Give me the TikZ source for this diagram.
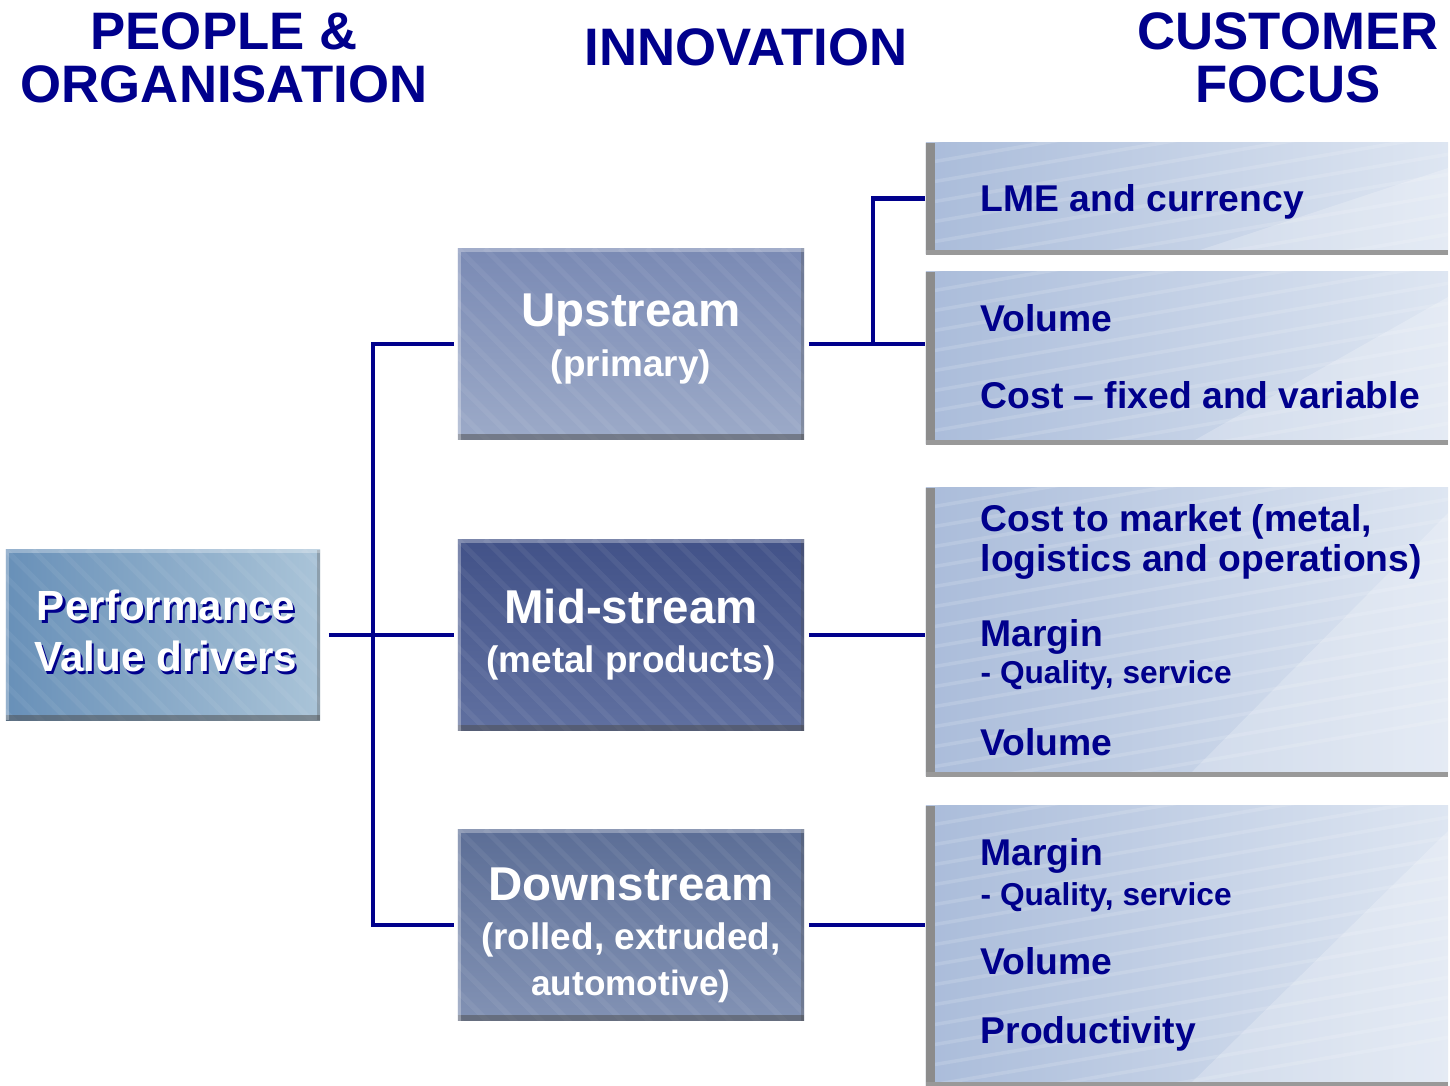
\documentclass[tikz,border=0pt]{standalone}
\usepackage{fontspec}
\setmainfont{Liberation Sans}
\definecolor{navy}{RGB}{0,0,140}
\definecolor{steelA}{RGB}{104,144,184}
\definecolor{steelB}{RGB}{170,196,216}
\definecolor{upA}{RGB}{122,138,180}
\definecolor{upB}{RGB}{156,170,200}
\definecolor{midA}{RGB}{66,82,136}
\definecolor{midB}{RGB}{96,112,160}
\definecolor{dnA}{RGB}{92,110,150}
\definecolor{dnB}{RGB}{130,146,180}
\definecolor{skyA}{RGB}{170,188,218}
\definecolor{skyB}{RGB}{222,230,242}

\begin{document}
\begin{tikzpicture}[x=0.01cm, y=-0.01cm,
    link/.style={draw=navy, line width=1.2pt},
    head/.style={text=navy, align=center, inner sep=0pt, font=\bfseries\fontsize{15}{15}\selectfont},
    bevel/.style={path picture={
        \foreach \k in {-8,...,14}
          \draw[white, opacity=.06, line width=1.5pt]
            ([xshift=\k*0.27cm]path picture bounding box.north west) -- ++(2.4cm,-2.4cm);
        \draw[black!70, opacity=.5, line width=3pt]
          (path picture bounding box.south west) -- (path picture bounding box.south east);
        \draw[black!70, opacity=.3, line width=2pt]
          (path picture bounding box.south east) -- (path picture bounding box.north east);
        \draw[white, opacity=.3, line width=2pt]
          (path picture bounding box.south west) -- (path picture bounding box.north west)
          -- (path picture bounding box.north east);}},
    stage/.style={bevel, inner sep=0pt, minimum width=3.46cm, minimum height=1.91cm,
        text=white, align=center, font=\bfseries},
    driver/.style={inner sep=0pt, minimum width=5.22cm, left color=skyA, right color=skyB,
        path picture={
        \foreach \k in {-2,...,16}
          \draw[white, opacity=.14, line width=1pt]
            ([yshift=-\k*0.2cm]path picture bounding box.north west) -- ++(5.3cm,0.9cm);
        \fill[white, opacity=.22] ([xshift=-2.6cm]path picture bounding box.south east)
          -- (path picture bounding box.south east)
          -- ([yshift=-0.25cm]path picture bounding box.north east) -- cycle;
        \draw[black!45, line width=5pt]
          (path picture bounding box.north west) -- (path picture bounding box.south west);
        \draw[black!40, line width=2.5pt]
          (path picture bounding box.south west) -- (path picture bounding box.south east);}},
    item/.style={anchor=base west, inner sep=0pt, text=navy, font=\bfseries\fontsize{10.6}{12}\selectfont},
    sub/.style={item, font=\bfseries\fontsize{9}{11}\selectfont}]
    \useasboundingbox (0,0) rectangle (1450,1086);

    % column headings
    \node[head] (hpeople) at (224,58) {PEOPLE \&\\ORGANISATION};
    \node[head] (hinno) at (746,47) {INNOVATION};
    \node[head] (hcust) at (1288,58) {CUSTOMER\\FOCUS};

    % value drivers
    \node[bevel, inner sep=0pt, minimum width=3.14cm, minimum height=1.70cm,
        left color=steelA, right color=steelB] (perf) at (163,635) {};
    \node[text=navy, align=center, font=\bfseries\fontsize{12}{14.5}\selectfont]
        (perfshadow) at (168,634) {Performance\\Value drivers};
    \node[text=white, align=center, font=\bfseries\fontsize{12}{14.5}\selectfont]
        (perftext) at (166,631) {Performance\\Value drivers};

    \node[stage, top color=upA, bottom color=upB] (up) at (631,344)
        {\fontsize{13.5}{16}\selectfont Upstream\\[2pt]
         \fontsize{10.5}{13}\selectfont (primary)\rule[-5pt]{0pt}{5pt}};
    \node[stage, top color=midA, bottom color=midB] (mid) at (631,635)
        {\fontsize{13.5}{16}\selectfont Mid-stream\\[2pt]
         \fontsize{10.5}{13}\selectfont (metal products)};
    \node[stage, top color=dnA, bottom color=dnB] (down) at (631,925)
        {\fontsize{13.5}{16}\selectfont \rule{0pt}{15pt}Downstream\\[2pt]
         \fontsize{10.5}{13}\selectfont (rolled, extruded,\\[1pt]
         automotive)};

    % customer focus boxes
    \node[driver, minimum height=1.11cm] (lme) at (1187,198.5) {};
    \node[driver, minimum height=1.72cm] (vol) at (1187,358) {};
    \node[driver, minimum height=2.88cm] (mkt) at (1187,632) {};
    \node[driver, minimum height=2.80cm] (dwn) at (1187,946) {};

    \node[item] (lmetext) at (980,212) {LME and currency};
    \node[item] (voltext) at (980,332) {Volume};
    \node[item] (costtext) at (980,409) {Cost -- fixed and variable};

    \node[item] (mkttext) at (980,532) {Cost to market (metal,};
    \node[item] (logtext) at (980,572) {logistics and operations)};
    \node[item] (mmargin) at (980,647) {Margin};
    \node[sub] (mquality) at (980,684) {- Quality, service};
    \node[item] (mvolume) at (980,756) {Volume};

    \node[item] (dmargin) at (980,866) {Margin};
    \node[sub] (dquality) at (980,906) {- Quality, service};
    \node[item] (dvolume) at (980,975) {Volume};
    \node[item] (dprod) at (980,1044) {Productivity};

    % tree connectors
    \coordinate (jl) at (373,635);
    \coordinate (ju) at (873,344);
    \draw[link] ([xshift=0.08cm]perf.east) -- ([xshift=-0.03cm]mid.west);
    \draw[link] ([xshift=-0.03cm]up.west) -| (jl) |- ([xshift=-0.03cm]down.west);
    \draw[link] ([xshift=0.04cm]up.east) -- (up.east -| vol.west);
    \draw[link] (lme.west) -| (ju);
    \draw[link] ([xshift=0.04cm]mid.east) -- (mid.east -| mkt.west);
    \draw[link] ([xshift=0.04cm]down.east) -- (down.east -| dwn.west);
\end{tikzpicture}
\end{document}
